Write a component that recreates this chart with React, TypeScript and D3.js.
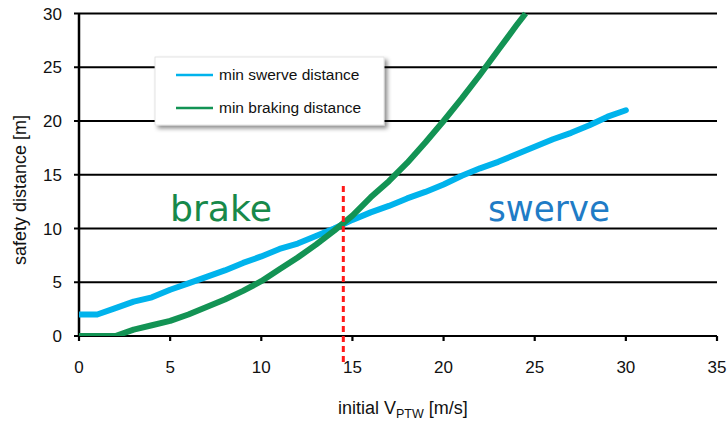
import React from "react";
import * as d3 from "d3";

const xTicks = [0, 5, 10, 15, 20, 25, 30, 35];
const yTicks = [0, 5, 10, 15, 20, 25, 30];

const swerveX = [0, 1, 2, 3, 4, 5, 6, 7, 8, 9, 10, 11, 12, 13, 14, 15, 16, 17, 18, 19, 20, 21, 22, 23, 24, 25, 26, 27, 28, 29, 30];
const swerveY = [2, 2, 2.6, 3.2, 3.6, 4.3, 4.9, 5.5, 6.1, 6.8, 7.4, 8.1, 8.6, 9.3, 10.0, 10.8, 11.5, 12.1, 12.8, 13.4, 14.1, 14.9, 15.6, 16.2, 16.9, 17.6, 18.3, 18.9, 19.6, 20.4, 21.0];

const brakeX = [0, 1, 2, 3, 4, 5, 6, 7, 8, 9, 10, 11, 12, 13, 14, 15, 16, 17, 18, 19, 20, 21, 22, 23, 24, 24.5];
const brakeY = [0, 0, 0, 0.6, 1.0, 1.4, 2.0, 2.7, 3.4, 4.2, 5.1, 6.2, 7.3, 8.5, 9.8, 11.2, 12.9, 14.4, 16.1, 18.0, 20.0, 22.1, 24.3, 26.6, 28.9, 30];

const thresholdX = 14.5;
const seriesNames = ["min swerve distance", "min braking distance"];

const W = 728;
const H = 422;

export default function App() {
  const x = d3.scaleLinear().domain([0, 35]).range([79, 717]);
  const y = d3.scaleLinear().domain([0, 30]).range([336, 13.5]);
  const line = d3
    .line<[number, number]>()
    .x((d) => x(d[0]))
    .y((d) => y(d[1]));
  const swerve = swerveX.map((v, i) => [v, swerveY[i]] as [number, number]);
  const brake = brakeX.map((v, i) => [v, brakeY[i]] as [number, number]);
  const blue = "#00b3ec";
  const green = "#139354";
  const font = "'Liberation Sans', Arial, sans-serif";

  return (
    <svg
      width={W}
      height={H}
      style={{ position: "absolute", left: 0, top: 0, background: "#fff" }}
      fontFamily={font}
    >
      <defs>
        <filter id="shadow" x="-10%" y="-10%" width="130%" height="140%">
          <feDropShadow dx="3" dy="3" stdDeviation="2" floodColor="#000" floodOpacity="0.45" />
        </filter>
        <clipPath id="plot">
          <rect x={x(0)} y={y(30) - 3} width={x(35) - x(0)} height={y(0) - y(30) + 3} />
        </clipPath>
      </defs>

      {/* gridlines */}
      {yTicks.map((t) => (
        <line key={"g" + t} x1={74} x2={x(35)} y1={y(t)} y2={y(t)} stroke="#000" strokeWidth={2.2} />
      ))}
      {/* y axis */}
      <line x1={x(0)} x2={x(0)} y1={y(30)} y2={y(0)} stroke="#000" strokeWidth={2.5} />
      {/* x ticks */}
      {xTicks.map((t) => (
        <line key={"xt" + t} x1={x(t)} x2={x(t)} y1={y(0)} y2={y(0) + 5} stroke="#000" strokeWidth={2.2} />
      ))}
      {/* y tick labels */}
      {yTicks.map((t) => (
        <text key={"yl" + t} x={62} y={y(t)} dy="0.36em" textAnchor="end" fontSize={17} fill="#111">
          {t}
        </text>
      ))}
      {/* x tick labels */}
      {xTicks.map((t) => (
        <text key={"xl" + t} x={x(t)} y={373} textAnchor="middle" fontSize={17} fill="#111">
          {t}
        </text>
      ))}

      {/* axis titles */}
      <text x={338} y={414} fontSize={18} fill="#111">
        initial V<tspan fontSize={12.5} dy={4}>PTW</tspan>
        <tspan dy={-4}> [m/s]</tspan>
      </text>
      <text
        transform={`translate(26, 190) rotate(-90)`}
        textAnchor="middle"
        fontSize={18}
        fill="#111"
      >
        safety distance [m]
      </text>

      {/* region labels */}
      <text x={170} y={221} fontSize={36} fill="#17894a" textLength={102} lengthAdjust="spacingAndGlyphs" fontFamily="'DejaVu Sans', sans-serif">
        brake
      </text>
      <text x={488} y={221} fontSize={35} fill="#1f7cc6" textLength={122} lengthAdjust="spacingAndGlyphs" fontFamily="'DejaVu Sans', sans-serif">
        swerve
      </text>

      {/* curves */}
      <g clipPath="url(#plot)">
        <path d={line(swerve) || ""} fill="none" stroke={blue} strokeWidth={6} strokeLinejoin="round" strokeLinecap="round" />
        <path d={line(brake) || ""} fill="none" stroke={green} strokeWidth={6} strokeLinejoin="round" />
      </g>

      {/* threshold */}
      <line x1={x(thresholdX)} x2={x(thresholdX)} y1={186} y2={364} stroke="#ff1a1a" strokeWidth={3} strokeDasharray="6 4" />

      {/* legend */}
      <rect x={155} y={57} width={229} height={68} fill="#fff" stroke="#ddd" strokeWidth={0.8} filter="url(#shadow)" />
      <line x1={176} x2={213} y1={75} y2={75} stroke={blue} strokeWidth={2.5} />
      <line x1={176} x2={213} y1={108} y2={108} stroke={green} strokeWidth={2.5} />
      <text x={219} y={75} dy="0.35em" fontSize={15.5} fill="#111">
        {seriesNames[0]}
      </text>
      <text x={219} y={108} dy="0.35em" fontSize={15.5} fill="#111">
        {seriesNames[1]}
      </text>
    </svg>
  );
}
